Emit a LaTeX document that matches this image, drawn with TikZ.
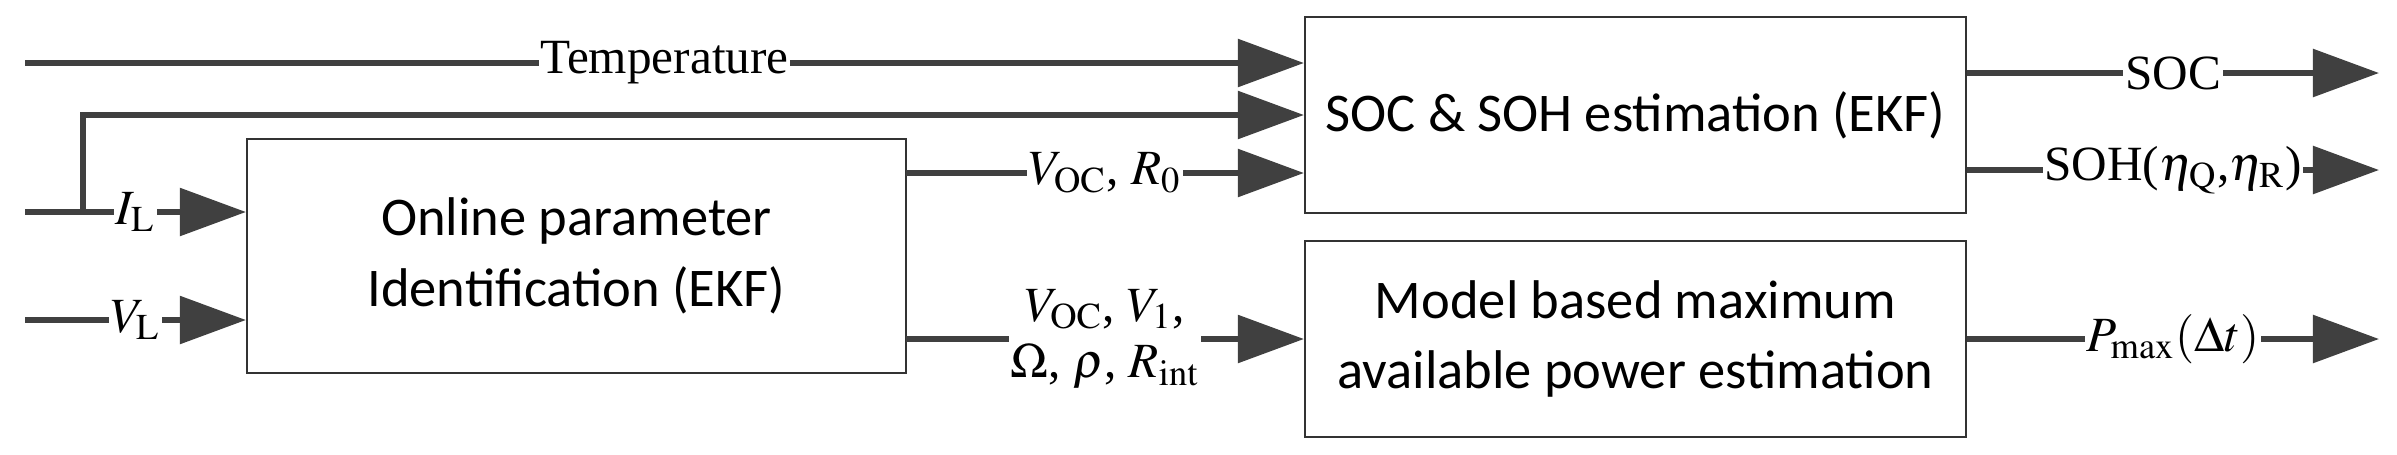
\documentclass[tikz,border=0pt]{standalone}
\usepackage{mathptmx}
\usepackage[no-math]{fontspec}
\setmainfont{Liberation Serif}
\newfontfamily\boxfont{Carlito}
\usetikzlibrary{arrows.meta}
\colorlet{arrowgray}{black!75}
\tikzset{
  block/.style={draw=black!80, line width=0.5pt, align=center, inner sep=0pt,
    font=\boxfont\fontsize{15.5}{20}\selectfont},
  sig/.style={draw=arrowgray, line width=1.6pt,
    -{Triangle[length=0.66cm,width=0.47cm]}},
  lbl/.style={fill=white, inner sep=0.5pt, font=\fontsize{14}{16}\selectfont}
}
\begin{document}
\begin{tikzpicture}[x=0.01cm,y=-0.01cm]
    \useasboundingbox (0,0) rectangle (2397,454);

    % Blocks
    \node [block, minimum width=6.59cm, minimum height=2.34cm] (online) at (576.5,256)
      {Online parameter\\Identification (EKF)};
    \node [block, minimum width=6.61cm, minimum height=1.96cm] (soc) at (1635.5,115)
      {SOC \& SOH estimation (EKF)};
    \node [block, minimum width=6.61cm, minimum height=1.96cm] (model) at (1635.5,339)
      {Model based maximum\\available power estimation};

    % Inputs
    \coordinate (tin) at (25,63);
    \coordinate (iin) at (25,212);
    \coordinate (vin) at (25,320);
    \coordinate (br)  at (83,212);
    \coordinate (cur) at (83,115);
    \coordinate (par) at (906,173);
    \coordinate (mpar) at (906,339);

    \draw [sig] (tin) -- node [lbl] {Temperature} (soc.west |- tin);
    \draw [sig] (iin) -- node [lbl, pos=0.5] {$I_{\mathrm{L}}$} (online.west |- iin);
    \draw [sig] (vin) -- node [lbl, pos=0.5] {$V_{\mathrm{L}}$} (online.west |- vin);
    \draw [sig] (br) -- (cur) -- (soc.west |- cur);

    % Parameters
    \draw [sig] (par) -- node [lbl] {$V_{\mathrm{OC}}$, $R_0$} (soc.west |- par);
    \draw [sig] (mpar) -- node [lbl, align=center]
      {$V_{\mathrm{OC}}$, $V_1$,\\$\Omega$, $\rho$, $R_{\mathrm{int}}$} (model.west |- mpar);

    % Outputs
    \foreach \y/\name/\txt/\src in {73/soc/SOC/soc, 170/soh/{SOH($\eta_{\mathrm{Q}}$,$\eta_{\mathrm{R}}$)}/soc,
                                     339/pmax/{$P_{\max}(\Delta t)$}/model} {
      \coordinate (out\name) at (2379,\y);
      \draw [sig] (\src.east |- out\name) -- node [lbl] {\txt} (out\name);
    }

  \end{tikzpicture}
\end{document}
